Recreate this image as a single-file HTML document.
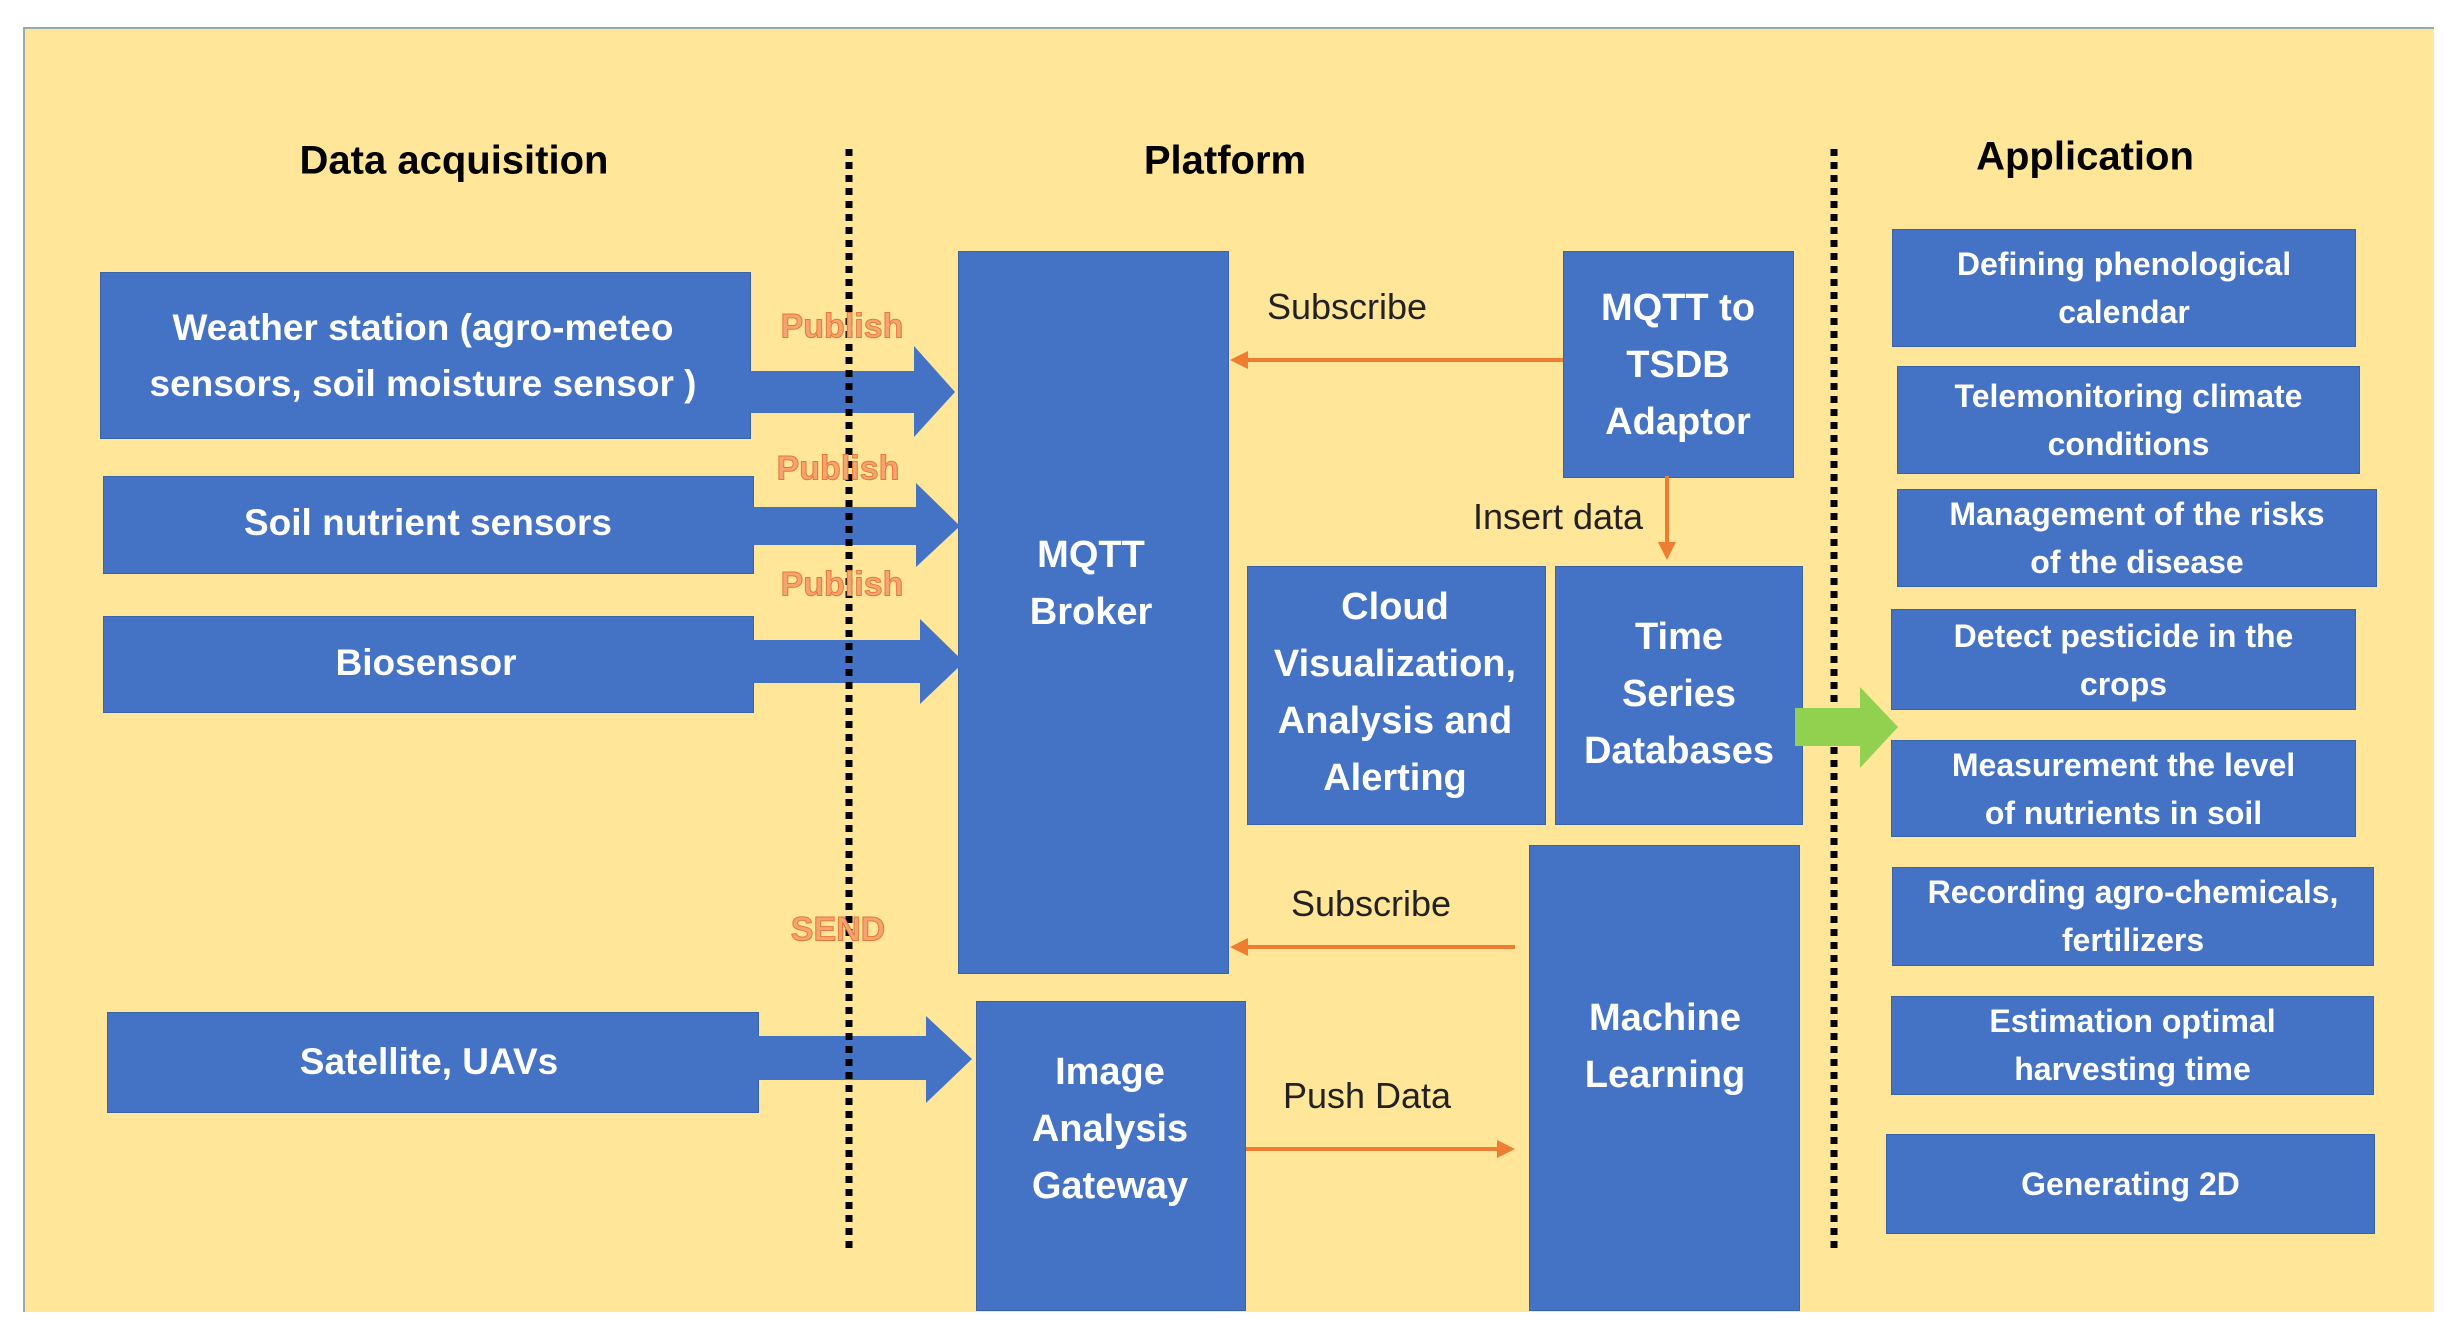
<!DOCTYPE html>
<html><head><meta charset="utf-8">
<style>
body{margin:0;width:2444px;height:1330px;background:#fff;position:relative;overflow:hidden;font-family:"Liberation Sans",sans-serif}
.bg{position:absolute;left:23px;top:27px;width:2409px;height:1283px;background:#FFE699;border-left:2px solid #9aa;border-top:2px solid #9aa}
.b{position:absolute;background:#4472C4;border:1px solid #3a62a8}
.t{position:absolute;color:#fff;font-weight:bold;text-align:center;white-space:nowrap;transform:translateX(-50%)}
.h{position:absolute;color:#000;font-weight:bold;font-size:40px;transform:translate(-50%,-50%);white-space:nowrap}
.o{position:absolute;color:#222;font-size:36px;transform:translate(-50%,-50%);white-space:nowrap}
.p{position:absolute;color:#F4A46E;font-weight:bold;font-size:34px;-webkit-text-stroke:1px #E5783A;transform:translate(-50%,-50%);white-space:nowrap}
.a{position:absolute;left:0;right:0;text-align:center;color:#fff;font-weight:bold;font-size:32px;line-height:48px;white-space:nowrap}
</style></head><body>
<div class="bg"></div>
<div class="h" style="left:454px;top:161px">Data acquisition</div>
<div class="h" style="left:1225px;top:161px">Platform</div>
<div class="h" style="left:2085px;top:157px">Application</div>

<div class="b" style="left:100px;top:272px;width:649px;height:165px"></div>
<div class="b" style="left:103px;top:476px;width:649px;height:96px"></div>
<div class="b" style="left:103px;top:616px;width:649px;height:95px"></div>
<div class="b" style="left:107px;top:1012px;width:650px;height:99px"></div>
<div class="b" style="left:958px;top:251px;width:269px;height:721px"></div>
<div class="b" style="left:976px;top:1001px;width:268px;height:308px"></div>
<div class="b" style="left:1563px;top:251px;width:229px;height:225px"></div>
<div class="b" style="left:1247px;top:566px;width:297px;height:257px"></div>
<div class="b" style="left:1555px;top:566px;width:246px;height:257px"></div>
<div class="b" style="left:1529px;top:845px;width:269px;height:464px"></div>

<div class="t" style="left:423px;top:300px;font-size:37px;line-height:56px">Weather station (agro-meteo<br>sensors, soil moisture sensor )</div>
<div class="t" style="left:428px;top:495px;font-size:37px;line-height:56px">Soil nutrient sensors</div>
<div class="t" style="left:426px;top:635px;font-size:37px;line-height:56px">Biosensor</div>
<div class="t" style="left:429px;top:1034px;font-size:37px;line-height:56px">Satellite, UAVs</div>
<div class="t" style="left:1091px;top:527px;font-size:38px;line-height:57px">MQTT<br>Broker</div>
<div class="t" style="left:1110px;top:1044px;font-size:38px;line-height:57px">Image<br>Analysis<br>Gateway</div>
<div class="t" style="left:1678px;top:280px;font-size:38px;line-height:57px">MQTT to<br>TSDB<br>Adaptor</div>
<div class="t" style="left:1395px;top:579px;font-size:38px;line-height:57px">Cloud<br>Visualization,<br>Analysis and<br>Alerting</div>
<div class="t" style="left:1679px;top:609px;font-size:38px;line-height:57px">Time<br>Series<br>Databases</div>
<div class="t" style="left:1665px;top:990px;font-size:38px;line-height:57px">Machine<br>Learning</div>

<div class="b" style="left:1892px;top:229px;width:462px;height:116px"><div class="a" style="top:10px">Defining phenological<br>calendar</div></div>
<div class="b" style="left:1897px;top:366px;width:461px;height:106px"><div class="a" style="top:5px">Telemonitoring climate<br>conditions</div></div>
<div class="b" style="left:1897px;top:489px;width:478px;height:96px"><div class="a" style="top:0px">Management of the risks<br>of the disease</div></div>
<div class="b" style="left:1891px;top:609px;width:463px;height:99px"><div class="a" style="top:2px">Detect pesticide in the<br>crops</div></div>
<div class="b" style="left:1891px;top:740px;width:463px;height:95px"><div class="a" style="top:0px">Measurement the level<br>of nutrients in soil</div></div>
<div class="b" style="left:1892px;top:867px;width:480px;height:97px"><div class="a" style="top:0px">Recording agro-chemicals,<br>fertilizers</div></div>
<div class="b" style="left:1891px;top:996px;width:481px;height:97px"><div class="a" style="top:0px">Estimation optimal<br>harvesting time</div></div>
<div class="b" style="left:1886px;top:1134px;width:487px;height:98px"><div class="a" style="top:25px">Generating 2D</div></div>

<svg style="position:absolute;left:0;top:0" width="2444" height="1330">
<g fill="#4472C4">
<polygon points="748,371 914,371 914,346 955,392 914,437 914,413 748,413"/>
<polygon points="752,507 916,507 916,483 960,526 916,567 916,545 752,545"/>
<polygon points="752,640 920,640 920,619 964,662 920,704 920,683 752,683"/>
<polygon points="757,1036 926,1036 926,1016 972,1059 926,1103 926,1080 757,1080"/>
</g>
<g stroke="#000" stroke-width="7" stroke-dasharray="7 6">
<line x1="849" y1="149" x2="849" y2="1254"/>
<line x1="1834" y1="149" x2="1834" y2="1254"/>
</g>
<polygon fill="#92D050" points="1795,708 1860,708 1860,687 1898,727 1860,768 1860,746 1795,746"/>
<g stroke="#ED7D31" stroke-width="4" fill="#ED7D31">
<line x1="1563" y1="360" x2="1242" y2="360"/><polygon stroke="none" points="1230,360 1248,351 1248,369"/>
<line x1="1515" y1="947" x2="1242" y2="947"/><polygon stroke="none" points="1230,947 1248,938 1248,956"/>
<line x1="1246" y1="1149" x2="1501" y2="1149"/><polygon stroke="none" points="1515,1149 1497,1140 1497,1158"/>
<line x1="1667" y1="476" x2="1667" y2="546"/><polygon stroke="none" points="1667,560 1658,542 1676,542"/>
</g>
</svg>
<div class="o" style="left:1347px;top:307px">Subscribe</div>
<div class="o" style="left:1371px;top:904px">Subscribe</div>
<div class="o" style="left:1367px;top:1096px">Push Data</div>
<div class="o" style="left:1558px;top:517px">Insert data</div>
<div class="p" style="left:842px;top:327px">Publish</div>
<div class="p" style="left:838px;top:469px">Publish</div>
<div class="p" style="left:842px;top:585px">Publish</div>
<div class="p" style="left:838px;top:930px">SEND</div>
</body></html>
